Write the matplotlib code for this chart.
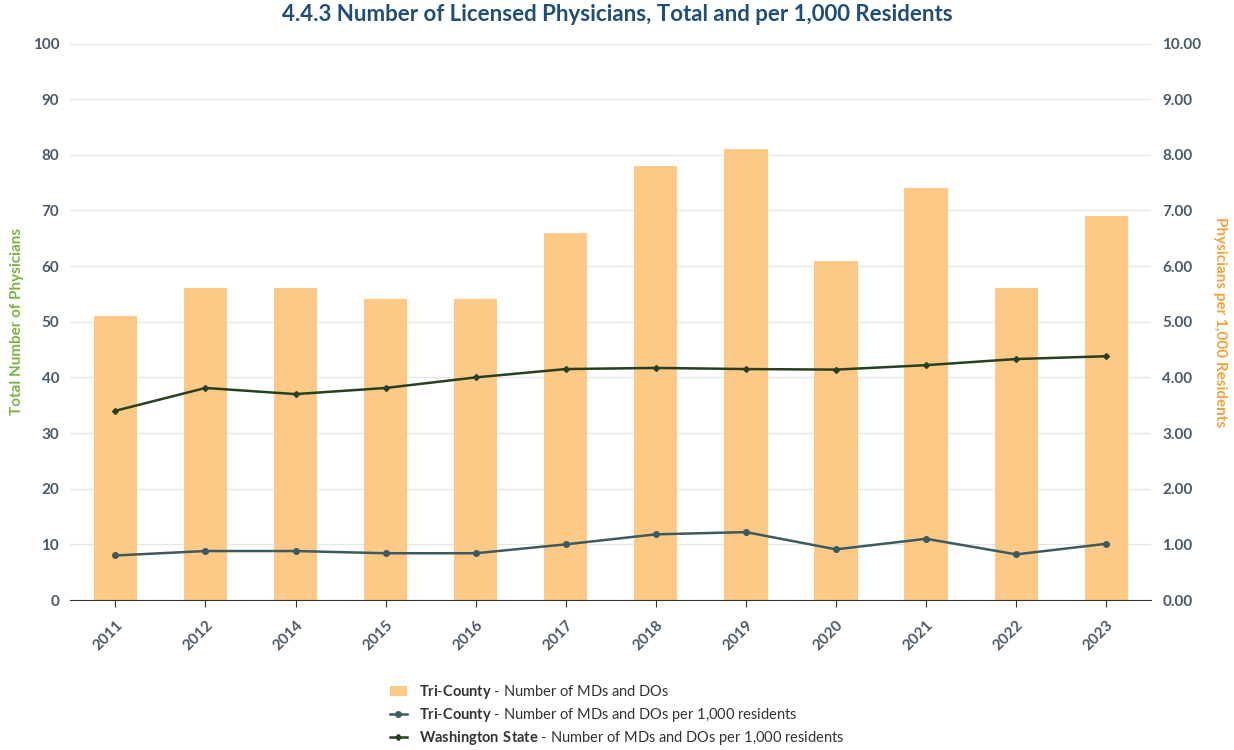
import matplotlib
matplotlib.use("Agg")
from matplotlib import pyplot as plt

years = ["2011", "2012", "2014", "2015", "2016", "2017", "2018", "2019", "2020", "2021", "2022", "2023"]
tri_total = [51, 56, 56, 54, 54, 66, 78, 81, 61, 74, 56, 69]
tri_rate = [0.80, 0.88, 0.88, 0.84, 0.84, 1.00, 1.18, 1.22, 0.91, 1.10, 0.82, 1.01]
wa_rate = [3.40, 3.81, 3.70, 3.81, 4.00, 4.15, 4.17, 4.15, 4.14, 4.22, 4.33, 4.38]

plt.rcParams["font.family"] = "Lato"
plt.rcParams["mathtext.fontset"] = "custom"
plt.rcParams["mathtext.bf"] = "Lato:bold"
plt.rcParams["mathtext.rm"] = "Lato"

tick_c = "#4a5a6a"
fig = plt.figure(figsize=(12.34, 7.5), dpi=100)
ax = fig.add_axes([0.057, 0.2, 0.876, 0.742])
ax2 = ax.twinx()

x = range(len(years))
b = ax.bar(x, tri_total, width=0.48, color="#fcc987", zorder=2)
l1, = ax2.plot(x, tri_rate, color="#3d5a5e", marker="o", markersize=4, lw=1.8, zorder=3)
l2, = ax2.plot(x, wa_rate, color="#27401f", marker="D", markersize=3, lw=1.8, zorder=3)

ax.set_ylim(0, 100)
ax.set_yticks(range(0, 101, 10))
ax2.set_ylim(0, 10)
ax2.set_yticks(range(0, 11))
ax2.set_yticklabels(["%.2f" % v for v in range(0, 11)])
ax.set_xlim(-0.5, len(years) - 0.5)
ax.set_xticks(list(x))
ax.set_xticklabels(years, rotation=45, ha="right", rotation_mode="anchor")
ax.grid(axis="y", color="#e6e6e6", lw=1, zorder=0)
ax.set_axisbelow(True)
for a in (ax, ax2):
    for s in a.spines.values():
        s.set_visible(False)
    a.tick_params(length=0, labelsize=11, colors=tick_c, pad=8)
ax.spines["bottom"].set_visible(True)
ax.spines["bottom"].set_color("#333333")
ax.tick_params(axis="x", length=5, color="#333333")
for lab in ax.get_yticklabels() + ax2.get_yticklabels() + ax.get_xticklabels():
    lab.set_fontweight("bold")

ax.set_ylabel("Total Number of Physicians", color="#7cb342", fontsize=11, fontweight="bold", labelpad=6)
ax2.set_ylabel("Physicians per 1,000 Residents", color="#f5a23a", fontsize=11, fontweight="bold", rotation=270, labelpad=18)
fig.suptitle("4.4.3 Number of Licensed Physicians, Total and per 1,000 Residents",
             x=0.5, y=0.995, fontsize=16, fontweight="bold", color="#1f4e79")

labels = [r"$\mathbf{Tri}$-$\mathbf{County}$ - Number of MDs and DOs",
          r"$\mathbf{Tri}$-$\mathbf{County}$ - Number of MDs and DOs per 1,000 residents",
          r"$\mathbf{Washington\ State}$ - Number of MDs and DOs per 1,000 residents"]
leg = fig.legend([b, l1, l2], labels, loc="lower center", bbox_to_anchor=(0.5, -0.014),
                 frameon=False, fontsize=10.5, handlelength=1.2, labelspacing=0.35)
for t in leg.get_texts():
    t.set_color("#333333")

fig.savefig("out.png", dpi=100)
